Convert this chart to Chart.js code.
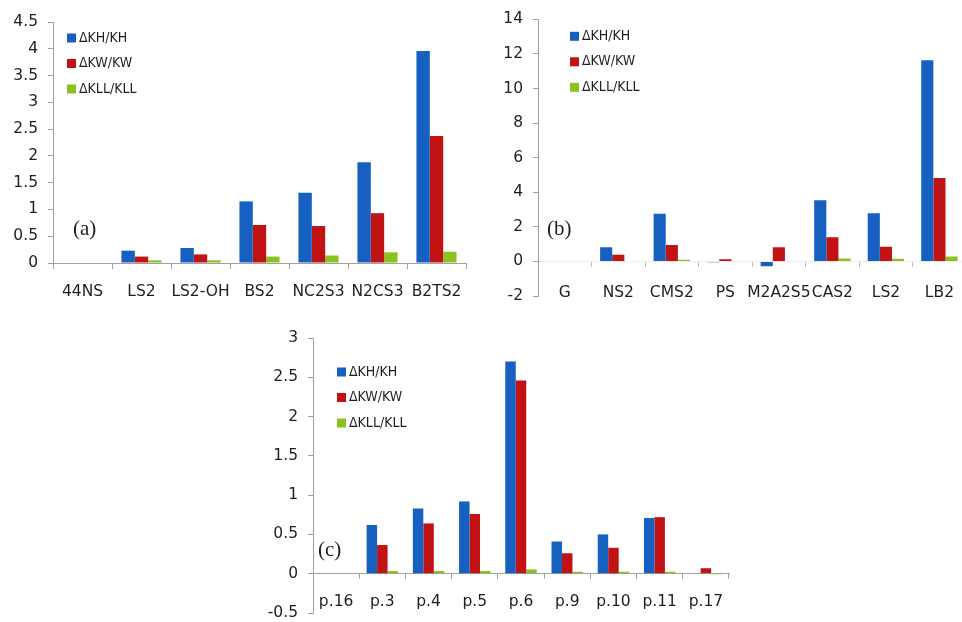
<!DOCTYPE html>
<html>
<head>
<meta charset="utf-8">
<script src="https://cdn.jsdelivr.net/npm/chart.js@4/dist/chart.umd.min.js"></script>
<style>
html, body { margin: 0; padding: 0; background: #fff; overflow: hidden; width: 962px; height: 622px; }
canvas { position: absolute; }
</style>
</head>
<body>
<canvas id="ca" width="480" height="308" style="left:0px;top:0px"></canvas>
<canvas id="cb" width="491" height="341" style="left:480px;top:0px"></canvas>
<canvas id="cc" width="480" height="368" style="left:260px;top:290px"></canvas>
<script>
// ---------- data ----------
const seriesNames = ['ΔKH/KH', 'ΔKW/KW', 'ΔKLL/KLL'];

const catsA = ['44NS', 'LS2', 'LS2-OH', 'BS2', 'NC2S3', 'N2CS3', 'B2TS2'];
const khA  = [0, 0.23, 0.28, 1.15, 1.31, 1.88, 3.96];
const kwA  = [0, 0.12, 0.16, 0.71, 0.69, 0.93, 2.37];
const kllA = [0, 0.05, 0.05, 0.12, 0.14, 0.20, 0.21];
const ticksA = [0, 0.5, 1, 1.5, 2, 2.5, 3, 3.5, 4, 4.5];

const catsB = ['G', 'NS2', 'CMS2', 'PS', 'M2A2S5', 'CAS2', 'LS2', 'LB2'];
const khB  = [0, 0.82, 2.75, -0.05, -0.28, 3.53, 2.79, 11.63];
const kwB  = [0, 0.38, 0.95, 0.13, 0.82, 1.40, 0.85, 4.82];
const kllB = [0, 0.03, 0.10, 0, 0, 0.17, 0.15, 0.28];
const ticksB = [-2, 0, 2, 4, 6, 8, 10, 12, 14];

const catsC = ['p.16', 'p.3', 'p.4', 'p.5', 'p.6', 'p.9', 'p.10', 'p.11', 'p.17'];
const khC  = [0, 0.62, 0.83, 0.92, 2.70, 0.41, 0.50, 0.71, 0];
const kwC  = [0, 0.365, 0.64, 0.76, 2.46, 0.26, 0.33, 0.72, 0.07];
const kllC = [0, 0.035, 0.035, 0.035, 0.055, 0.025, 0.025, 0.025, -0.01];
const ticksC = [-0.5, 0, 0.5, 1, 1.5, 2, 2.5, 3];

const panelTags = ['(a)', '(b)', '(c)'];

// ---------- styling ----------
const COLORS = ['#1660c2', '#c11313', '#8cc21f'];
const FONT = 'DejaVu Sans';
const TEXT = '#1e1e1e';
const AXIS = '#a0a0a0';

const panelDecor = {
  id: 'panelDecor',
  afterDraw(chart, args, opts) {
    const ctx = chart.ctx, area = chart.chartArea, ys = chart.scales.y;
    ctx.save();
    ctx.font = '14px "DejaVu Sans Condensed", "DejaVu Sans"';
    ctx.textBaseline = 'middle';
    ctx.textAlign = 'left';
    chart.data.datasets.forEach((ds, i) => {
      const cx = area.left + opts.legendDx;
      const cy = area.top + opts.legendDy + i * opts.legendGap;
      ctx.fillStyle = ds.backgroundColor;
      ctx.fillRect(cx, cy - 4.5, 9, 9);
      ctx.fillStyle = TEXT;
      ctx.fillText(ds.label, cx + 12, cy);
    });
    ctx.font = '21px "Liberation Serif"';
    ctx.fillStyle = TEXT;
    ctx.fillText(opts.tag, area.left + opts.tagDx, ys.getPixelForValue(opts.tagValue));
    ctx.restore();
  }
};

function makeChart(id, cats, kh, kw, kll, ticks, cfg) {
  const vals = [kh, kw, kll];
  return new Chart(document.getElementById(id), {
    type: 'bar',
    data: {
      labels: cats,
      datasets: seriesNames.map((n, i) => ({
        label: n,
        data: vals[i],
        backgroundColor: COLORS[i],
        borderWidth: 0,
        categoryPercentage: 0.68,
        barPercentage: 1.0
      }))
    },
    options: {
      responsive: false,
      animation: false,
      layout: { padding: { top: cfg.padTop, right: cfg.padRight, left: 0, bottom: 45 } },
      plugins: {
        legend: { display: false },
        tooltip: { enabled: false },
        panelDecor: cfg.decor
      },
      scales: {
        x: {
          type: 'category',
          position: { y: 0 },
          grid: { display: true, drawOnChartArea: false, offset: true, tickLength: 5, color: cfg.xTickColor },
          border: { display: true, color: cfg.xAxisColor, width: 1 },
          ticks: {
            autoSkip: false, maxRotation: 0, minRotation: 0,
            padding: cfg.labelPad, color: TEXT,
            font: { family: FONT, size: 15.5 }
          }
        },
        y: {
          min: ticks[0], max: ticks[ticks.length - 1],
          afterFit: (s) => { s.width = cfg.yWidth; },
          afterBuildTicks: (s) => { s.ticks = ticks.map(v => ({ value: v })); },
          grid: { display: true, drawOnChartArea: false, tickLength: 5, color: AXIS },
          border: { display: true, color: AXIS, width: 1 },
          ticks: {
            padding: 10, color: TEXT,
            font: { family: FONT, size: 15.5 },
            callback: (v) => String(v)
          }
        }
      }
    },
    plugins: [panelDecor]
  });
}

makeChart('ca', catsA, khA, kwA, kllA, ticksA, {
  padTop: 22, padRight: 14, yWidth: 53, labelPad: 15,
  xTickColor: AXIS, xAxisColor: AXIS,
  decor: { legendDx: 14, legendDy: 16, legendGap: 25.5, tag: panelTags[0], tagDx: 20, tagValue: 0.63 }
});

makeChart('cb', catsB, khB, kwB, kllB, ticksB, {
  padTop: 15, padRight: 0, yWidth: 58, labelPad: 17,
  xTickColor: '#c0c0c0', xAxisColor: '#ececec',
  decor: { legendDx: 32, legendDy: 17, legendGap: 25.5, tag: panelTags[1], tagDx: 9, tagValue: 1.82 }
});

makeChart('cc', catsC, khC, kwC, kllC, ticksC, {
  padTop: 48, padRight: 11, yWidth: 53, labelPad: 14,
  xTickColor: AXIS, xAxisColor: AXIS,
  decor: { legendDx: 24, legendDy: 34, legendGap: 25.5, tag: panelTags[2], tagDx: 5, tagValue: 0.30 }
});
</script>
</body>
</html>
